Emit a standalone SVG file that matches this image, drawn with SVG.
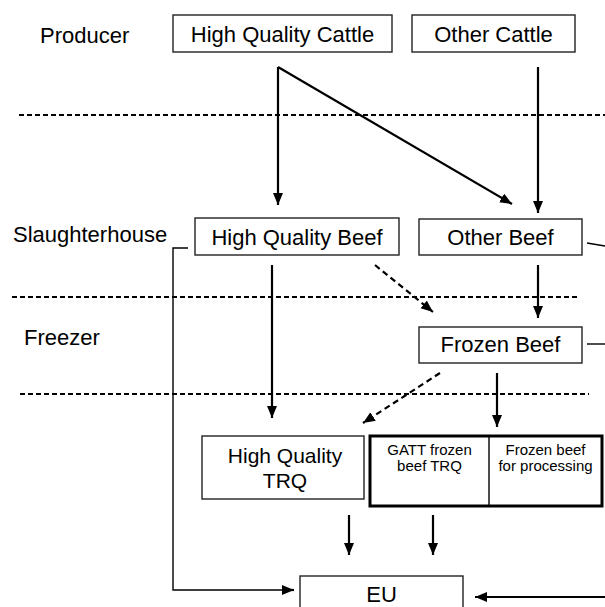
<svg xmlns="http://www.w3.org/2000/svg" width="605" height="607" viewBox="0 0 605 607">
<style>
.box{fill:#fff;stroke:#222;stroke-width:1.4}
.thick{fill:#fff;stroke:#000;stroke-width:3}
.t{font-family:"Liberation Sans",Arial,sans-serif;font-size:22px;fill:#000}
.tc{text-anchor:middle}
.m{font-size:21px}
.s{font-family:"Liberation Sans",Arial,sans-serif;font-size:15px;fill:#000;text-anchor:middle}
.a{stroke:#000;stroke-width:2.2;fill:none;marker-end:url(#ah)}
.da{stroke:#000;stroke-width:2.2;fill:none;stroke-dasharray:6,4;marker-end:url(#ah)}
.sep{stroke:#000;stroke-width:2;fill:none;stroke-dasharray:5,3}
.thin{stroke:#000;stroke-width:1.4;fill:none}
</style>
<defs>
<marker id="ah" markerUnits="userSpaceOnUse" markerWidth="13" markerHeight="11" refX="12" refY="5" orient="auto">
<path d="M0,0 L12,5 L0,10 z" fill="#000"/>
</marker>
</defs>
<rect width="605" height="607" fill="#fff"/>
<g id="separators">
<line class="sep" x1="19" y1="115" x2="605" y2="115"/>
<line class="sep" x1="12" y1="297" x2="580" y2="297"/>
<line class="sep" x1="20" y1="394" x2="589" y2="394"/>
</g>
<g id="stage-labels">
<text class="t" x="40" y="43">Producer</text>
<text class="t" x="13" y="242">Slaughterhouse</text>
<text class="t" x="24" y="345">Freezer</text>
</g>
<g id="hq-cattle">
<rect class="box" x="173" y="15" width="219" height="37"/>
<text class="t tc" x="282.5" y="42">High Quality Cattle</text>
</g>
<g id="other-cattle">
<rect class="box" x="412" y="15" width="163" height="37"/>
<text class="t tc" x="493.5" y="42">Other Cattle</text>
</g>
<g id="hq-beef">
<rect class="box" x="195" y="218" width="204" height="37"/>
<text class="t tc" x="297" y="245">High Quality Beef</text>
</g>
<g id="other-beef">
<rect class="box" x="419" y="219" width="163" height="36"/>
<text class="t tc" x="500.5" y="245">Other Beef</text>
</g>
<g id="frozen-beef">
<rect class="box" x="419" y="327" width="163" height="36"/>
<text class="t tc" x="500.5" y="352">Frozen Beef</text>
</g>
<g id="hq-trq">
<rect class="box" x="202" y="436" width="162" height="63"/>
<text class="t tc m" x="285" y="463">High Quality</text>
<text class="t tc m" x="285" y="488">TRQ</text>
</g>
<g id="gatt-trq">
<rect class="thick" x="370" y="436" width="232" height="70"/>
<line class="thin" x1="489" y1="436" x2="489" y2="506"/>
<text class="s" x="429.5" y="455">GATT frozen</text>
<text class="s" x="429.5" y="471">beef TRQ</text>
<text class="s" x="545.5" y="455">Frozen beef</text>
<text class="s" x="545.5" y="471">for processing</text>
</g>
<g id="eu">
<rect class="box" x="300" y="576" width="163" height="40"/>
<text class="t tc" x="381.5" y="602">EU</text>
</g>
<g id="connectors">
<line class="a" x1="278" y1="67" x2="278" y2="205"/>
<line class="a" x1="278" y1="67" x2="512" y2="204"/>
<line class="a" x1="538" y1="67" x2="538" y2="213"/>
<line class="a" x1="272" y1="265" x2="272" y2="418"/>
<line class="da" x1="375" y1="265" x2="433" y2="312"/>
<line class="a" x1="538" y1="265" x2="538" y2="318"/>
<line class="da" x1="440" y1="373" x2="363" y2="423"/>
<line class="a" x1="497" y1="373" x2="497" y2="427"/>
<path class="thin" d="M188,248 H173 V590 H283"/>
<line class="a" x1="282" y1="590" x2="294" y2="590"/>
<line class="a" x1="349" y1="515" x2="349" y2="555"/>
<line class="a" x1="433" y1="515" x2="433" y2="555"/>
<line class="a" x1="605" y1="597" x2="475" y2="597"/>
<line class="thin" x1="587" y1="243" x2="605" y2="246"/>
<line class="thin" x1="587" y1="344" x2="605" y2="344"/>
</g>
</svg>
